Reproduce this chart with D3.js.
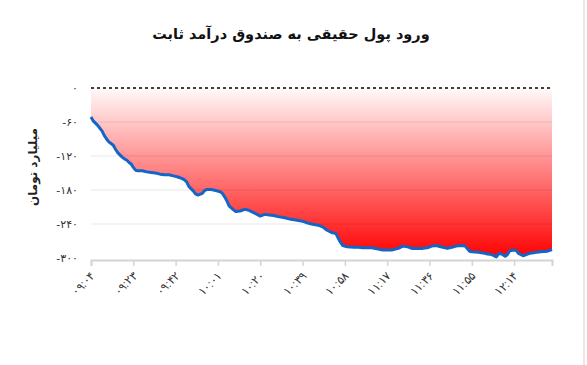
<!DOCTYPE html>
<html><head><meta charset="utf-8">
<script src="https://cdn.jsdelivr.net/npm/d3@7"></script>
<style>
html,body{margin:0;padding:0;background:#fff;}
svg{display:block;font-family:"DejaVu Sans",sans-serif;}
</style></head>
<body><svg id="chart" width="587" height="365"></svg>
<script>
const title = "ورود پول حقیقی به صندوق درآمد ثابت";
const yTitle = "میلیارد تومان";
const times = ["09:04","09:05","09:06","09:07","09:08","09:09","09:10","09:11","09:12","09:13","09:14","09:15","09:16","09:17","09:18","09:19","09:20","09:21","09:22","09:23","09:24","09:25","09:27","09:29","09:31","09:33","09:35","09:37","09:39","09:41","09:43","09:45","09:46","09:47","09:48","09:50","09:51","09:52","09:54","09:55","09:56","09:58","10:00","10:02","10:03","10:04","10:05","10:06","10:08","10:09","10:11","10:13","10:15","10:17","10:19","10:20","10:22","10:24","10:26","10:28","10:31","10:33","10:36","10:39","10:41","10:43","10:46","10:48","10:50","10:52","10:54","10:55","10:56","10:57","10:59","11:02","11:04","11:06","11:08","11:10","11:13","11:15","11:17","11:19","11:22","11:24","11:26","11:28","11:31","11:33","11:35","11:37","11:39","11:41","11:44","11:46","11:48","11:50","11:52","11:54","11:55","11:58","12:00","12:02","12:04","12:06","12:07","12:08","12:10","12:11","12:12","12:14","12:15","12:16","12:18","12:20","12:22","12:24","12:26","12:29","12:31"];
const values = [-51,-58,-62,-66,-71,-76,-84,-90,-95,-98,-101,-108,-114,-118,-122,-125,-127,-131,-134,-140,-145,-146,-146,-148,-149,-150,-152,-153,-153,-155,-157,-160,-162,-166,-174,-182,-187,-189,-186,-181,-179,-179,-181,-183,-186,-192,-199,-208,-215,-218,-217,-214,-216,-220,-224,-226,-223,-224,-225,-227,-229,-231,-233,-235,-238,-240,-242,-245,-251,-255,-257,-265,-272,-278,-280,-281,-281,-282,-282,-282,-284,-286,-286,-286,-283,-279,-280,-283,-283,-283,-282,-279,-278,-280,-283,-281,-279,-278,-279,-288,-289,-290,-291,-293,-294,-298,-293,-292,-297,-294,-287,-286,-287,-292,-296,-293,-291,-290,-289,-288,-285];
const xTicks = ["09:04","09:23","09:42","10:01","10:20","10:39","10:58","11:17","11:36","11:55","12:14"];
const yTicks = [0,-60,-120,-180,-240,-300];

const fa = s => String(s).replace(/\d/g, d => "۰۱۲۳۴۵۶۷۸۹"[d]);
const toMin = t => { const [h,m] = t.split(":").map(Number); return h*60+m; };
const data = times.map((t,i)=>({m:toMin(t), v:values[i]}));

const svg = d3.select("#chart");
const L = 91, R = 552, T = 88, B = 260;
const x = d3.scaleLinear().domain([toMin("09:04"), toMin("12:31")]).range([L, R]);
const y = d3.scaleLinear().domain([-303.5, 0]).range([B, T]);

const defs = svg.append("defs");
const g = defs.append("linearGradient").attr("id","rg").attr("gradientUnits","userSpaceOnUse")
  .attr("x1",0).attr("x2",0).attr("y1",y(0)).attr("y2",y(-300));
g.append("stop").attr("offset","0%").attr("stop-color","#ff0000").attr("stop-opacity",0.02);
g.append("stop").attr("offset","100%").attr("stop-color","#ff0000").attr("stop-opacity",1);

// right frame line
svg.append("line").attr("x1",584).attr("x2",584).attr("y1",0).attr("y2",365).attr("stroke","#e2e2e2").attr("stroke-width",1.5);

// area
svg.append("path").datum(data)
  .attr("d", d3.area().x(d=>x(d.m)).y0(y(0)).y1(d=>y(d.v)))
  .attr("fill","url(#rg)");

// gridlines
svg.append("g").selectAll("line").data(yTicks.filter(v=>v!==0 && v!==-300)).join("line")
  .attr("x1",L).attr("x2",R).attr("y1",d=>y(d)).attr("y2",d=>y(d))
  .attr("stroke","rgba(0,0,0,0.09)").attr("stroke-width",1);

// zero dashed
svg.append("line").attr("x1",L).attr("x2",R).attr("y1",y(0)).attr("y2",y(0))
  .attr("stroke","#000").attr("stroke-width",1.3).attr("stroke-dasharray","3,3");

// x axis
const xa = d3.axisBottom(x).tickValues(xTicks.map(toMin)).tickSize(6).tickFormat((d,i)=>fa(xTicks[i]));
const xg = svg.append("g").attr("transform",`translate(0,${B})`).call(xa);
xg.select(".domain").attr("stroke","#d4d4d4").attr("stroke-width",2);
xg.selectAll(".tick line").attr("stroke","#d4d4d4").attr("stroke-width",1.5);
xg.selectAll(".tick text").attr("fill","#333").attr("font-size",11.5)
  .attr("text-anchor","end").attr("dy",0).attr("y",0)
  .attr("transform","translate(4,17) rotate(-45)");

// y labels
svg.append("g").selectAll("text").data(yTicks).join("text")
  .attr("x",78).attr("y",d=>y(d)).attr("dy","0.35em").attr("text-anchor","end")
  .attr("font-size",11).attr("fill","#333").text(d=>fa(d));

// line
svg.append("path").datum(data)
  .attr("d", d3.line().x(d=>x(d.m)).y(d=>y(d.v)))
  .attr("fill","none").attr("stroke","#1565c8").attr("stroke-width",3).attr("stroke-linejoin","round");

// titles
svg.append("text").attr("x",291).attr("y",39).attr("text-anchor","middle")
  .attr("font-size",14.5).attr("font-weight","bold").attr("fill","#111").text(title);
svg.append("text").attr("transform","translate(37,167) rotate(-90)").attr("text-anchor","middle")
  .attr("font-size",12).attr("font-weight","bold").attr("fill","#222").text(yTitle);
</script></body></html>
